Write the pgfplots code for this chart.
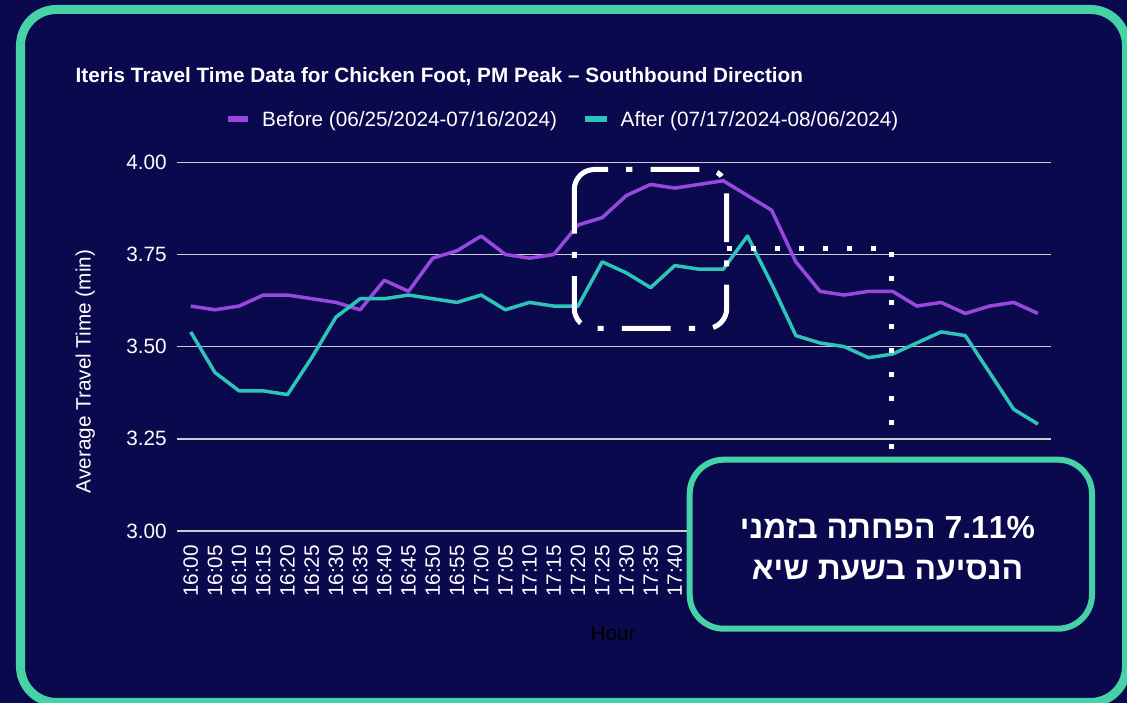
\documentclass[border=0pt]{standalone}
\usepackage{fontspec}
\setmainfont{Liberation Sans}
\newfontfamily\hebfont[Script=Hebrew]{Liberation Sans}
\usepackage{pgfplots}
\pgfplotsset{compat=1.18}
\TeXXeTstate=1
\definecolor{bgnavy}{RGB}{10,9,78}
\definecolor{frameteal}{RGB}{69,211,166}
\definecolor{linepurple}{RGB}{152,72,222}
\definecolor{lineteal}{RGB}{45,196,186}
\definecolor{gridgray}{RGB}{205,205,205}
\newcommand\chartfont{\fontsize{20.8}{25}\selectfont}

\begin{document}
\begin{tikzpicture}
\useasboundingbox (0,0) rectangle (1127bp,703bp);
\clip (0,0) rectangle (1127bp,703bp);
\fill[bgnavy] (0,0) rectangle (1127bp,703bp);
\begin{scope}[x=1bp,y=-1bp,shift={(0bp,703bp)}]
  \draw[frameteal, line width=9bp, rounded corners=36bp] (20.5,9.5) rectangle (1126.5,702.5);
\end{scope}

\begin{axis}[
  at={(177bp,172bp)}, anchor=south west,
  scale only axis, width=874bp, height=368.7bp,
  xmin=-0.566, xmax=35.541, ymin=3, ymax=4,
  axis line style={draw=none},
  tick style={draw=none},
  major tick length=0pt,
  ytick={3,3.25,3.5,3.75,4},
  ymajorgrids,
  grid style={gridgray, line width=1.5bp},
  /pgf/number format/assume math mode=true,
  yticklabel style={/pgf/number format/fixed, /pgf/number format/fixed zerofill, /pgf/number format/precision=2,
    anchor=east, inner sep=0pt, outer sep=0pt, outer xsep=10.3bp},
  tick label style={text=white, font=\chartfont},
  xtick={0,...,35},
  xticklabels={16:00,16:05,16:10,16:15,16:20,16:25,16:30,16:35,16:40,16:45,16:50,16:55,17:00,17:05,17:10,17:15,17:20,17:25,17:30,17:35,17:40,17:45,17:50,17:55,18:00,18:05,18:10,18:15,18:20,18:25,18:30,18:35,18:40,18:45,18:50,18:55},
  xticklabel style={rotate=90, anchor=east, inner sep=0pt, outer sep=0pt, outer xsep=14bp},
  ylabel={Average Travel Time (min)},
  xlabel={Hour},
  every axis y label/.style={at={(axis description cs:-0.105,0.4326)}, rotate=90, anchor=center, text=white, font=\chartfont},
  every axis x label/.style={at={(axis description cs:0.4989,-0.2766)}, anchor=center, text=black, font=\chartfont},
  clip=false,
]
\addplot[linepurple, line width=3.5bp, line join=round, mark=none] coordinates {
(0,3.61) (1,3.60) (2,3.61) (3,3.64) (4,3.64) (5,3.63) (6,3.62) (7,3.60) (8,3.68) (9,3.65)
(10,3.74) (11,3.76) (12,3.80) (13,3.75) (14,3.74) (15,3.75) (16,3.83) (17,3.85) (18,3.91) (19,3.94)
(20,3.93) (21,3.94) (22,3.95) (23,3.91) (24,3.87) (25,3.73) (26,3.65) (27,3.64) (28,3.65) (29,3.65)
(30,3.61) (31,3.62) (32,3.59) (33,3.61) (34,3.62) (35,3.59)
};
\addplot[lineteal, line width=3.5bp, line join=round, mark=none] coordinates {
(0,3.54) (1,3.43) (2,3.38) (3,3.38) (4,3.37) (5,3.47) (6,3.58) (7,3.63) (8,3.63) (9,3.64)
(10,3.63) (11,3.62) (12,3.64) (13,3.60) (14,3.62) (15,3.61) (16,3.61) (17,3.73) (18,3.70) (19,3.66)
(20,3.72) (21,3.71) (22,3.71) (23,3.80) (24,3.67) (25,3.53) (26,3.51) (27,3.50) (28,3.47) (29,3.48)
(30,3.51) (31,3.54) (32,3.53) (33,3.43) (34,3.33) (35,3.29)
};
\end{axis}

\begin{scope}[x=1bp,y=-1bp,shift={(0bp,703bp)}]
  % title
  \node[anchor=base west, inner sep=0pt, text=white, font=\chartfont\bfseries] at (75.5,82.7)
    {Iteris Travel Time Data for Chicken Foot, PM Peak – Southbound Direction};
  % legend
  \fill[linepurple] (228,116.5) rectangle (248,122.5);
  \node[anchor=base west, inner sep=0pt, text=white, font=\chartfont] at (262,127) {Before (06/25/2024-07/16/2024)};
  \fill[lineteal] (585,116.5) rectangle (606.5,122.5);
  \node[anchor=base west, inner sep=0pt, text=white, font=\chartfont] at (620.5,127) {After (07/17/2024-08/06/2024)};
  % dash-dot highlight rectangle (open path, so the dash phase starts at the first point)
  \draw[white, line width=5bp, line cap=butt, rounded corners=20bp,
        dash pattern=on 48.8bp off 18.2bp on 6.1bp off 18.2bp]
    (574.3,193.2) -- (574.3,169.5) -- (726.7,169.5) -- (726.7,328.5) -- (574.3,328.5) -- (574.3,193.2);
  % dotted guide lines
  \draw[white, line width=5bp, line cap=butt, dash pattern=on 5bp off 19bp] (726.5,249) -- (880,249);
  \draw[white, line width=5bp, line cap=butt, dash pattern=on 5bp off 19bp] (891,252.5) -- (891,455);
  % info box
  \draw[frameteal, line width=6bp, fill=bgnavy, rounded corners=34bp] (689.7,459.7) rectangle (1092,628.7);
  \node[align=center, text=white, inner sep=0pt, font=\hebfont\bfseries\fontsize{32}{41.3}\selectfont]
    at (887.5,548) {\beginR\beginL 7.11\%\endL{} הפחתה בזמני\endR\\\beginR הנסיעה בשעת שיא\endR};
\end{scope}
\end{tikzpicture}
\end{document}
